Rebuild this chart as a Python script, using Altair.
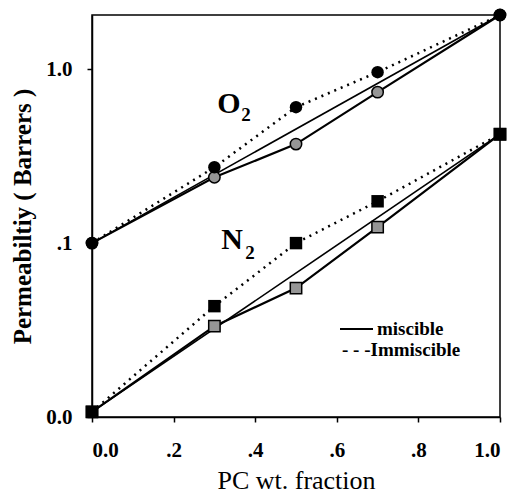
import altair as alt
import pandas as pd

# PC weight fraction
x_vals = [0.0, 0.3, 0.5, 0.7, 1.0]

# O2 permeability (Barrers)
o2_immiscible = [0.1, 0.273, 0.605, 0.961, 2.05]
o2_miscible = [0.1, 0.239, 0.371, 0.738, 2.05]
# N2 permeability (Barrers)
n2_immiscible = [0.0107, 0.0434, 0.1, 0.174, 0.423]
n2_miscible = [0.0107, 0.0333, 0.0551, 0.1236, 0.423]

x_ticks = [0.0, 0.2, 0.4, 0.6, 0.8, 1.0]
y_ticks = [0.01, 0.1, 1.0]

rows = []
for gas, imm, mis in [("O2", o2_immiscible, o2_miscible), ("N2", n2_immiscible, n2_miscible)]:
    for xv, a, b in zip(x_vals, imm, mis):
        rows.append({"x": xv, "y": a, "gas": gas, "kind": "immiscible"})
        rows.append({"x": xv, "y": b, "gas": gas, "kind": "miscible"})
df = pd.DataFrame(rows)

# straight log-linear mixing line between the pure-component endpoints
straight = []
for gas, mis in [("O2", o2_miscible), ("N2", n2_miscible)]:
    straight.append({"x": x_vals[0], "y": mis[0], "gas": gas})
    straight.append({"x": x_vals[-1], "y": mis[-1], "gas": gas})
df_straight = pd.DataFrame(straight)

FONT = "Liberation Serif"

x_enc = alt.X("x:Q", scale=alt.Scale(domain=[0, 1], nice=False),
              axis=alt.Axis(values=x_ticks, title="PC wt. fraction",
                            labelExpr="datum.value == 0 ? '0.0' : (datum.value >= 1 ? '1.0' : '.' + format(datum.value*10, 'd'))",
                            labelPadding=17, titlePadding=7, titleFontSize=26,
                            titleFontWeight="normal"))
y_enc = alt.Y("y:Q", scale=alt.Scale(type="log", domain=[0.01, 2.05], nice=False),
              axis=alt.Axis(values=y_ticks, title="Permeabiltiy ( Barrers )",
                            labelExpr="datum.value > 0.5 ? '1.0' : (datum.value > 0.05 ? '.1' : '0.0')",
                            labelPadding=15, titlePadding=10,
                            titleFontWeight="bold"))

base = alt.Chart(df)

straight_line = alt.Chart(df_straight).mark_line(color="black", strokeWidth=1.6).encode(
    x=x_enc, y=y_enc, detail="gas:N")

mis_line = base.transform_filter(alt.datum.kind == "miscible").mark_line(
    color="black", strokeWidth=2.2).encode(x=x_enc, y=y_enc, detail="gas:N")

imm_line = base.transform_filter(alt.datum.kind == "immiscible").mark_line(
    color="black", strokeWidth=2.5, strokeDash=[2, 5]).encode(x=x_enc, y=y_enc, detail="gas:N")

shape_scale = alt.Scale(domain=["O2", "N2"], range=["circle", "square"])

mis_pts = base.transform_filter(alt.datum.kind == "miscible").mark_point(
    filled=True, fill="#969696", stroke="black", strokeWidth=1.5, opacity=1, size=130).encode(
    x=x_enc, y=y_enc, shape=alt.Shape("gas:N", scale=shape_scale, legend=None))

imm_pts = base.transform_filter(alt.datum.kind == "immiscible").mark_point(
    filled=True, color="black", opacity=1, size=155).encode(
    x=x_enc, y=y_enc, shape=alt.Shape("gas:N", scale=shape_scale, legend=None))

# gas labels
lab_main = alt.Chart(pd.DataFrame({"t": ["O", "N"], "px": [137, 140], "py": [89, 225]})).mark_text(
    font=FONT, fontWeight="bold", fontSize=30, color="black").encode(
    x=alt.X("px:Q", scale=None), y=alt.Y("py:Q", scale=None), text="t:N")
lab_sub = alt.Chart(pd.DataFrame({"t": ["2", "2"], "px": [154, 158], "py": [100, 238]})).mark_text(
    font=FONT, fontWeight="bold", fontSize=19, color="black").encode(
    x=alt.X("px:Q", scale=None), y=alt.Y("py:Q", scale=None), text="t:N")

# legend
leg_line = alt.Chart(pd.DataFrame({"a": [0]})).mark_rule(color="black", strokeWidth=2).encode(
    x=alt.value(248), x2=alt.value(281), y=alt.value(314))
leg_text = alt.Chart(pd.DataFrame({"t": ["miscible", "- - -Immiscible"], "px": [285, 250], "py": [314, 335]})).mark_text(
    font=FONT, fontWeight="bold", fontSize=19, color="black", align="left", baseline="middle").encode(
    x=alt.X("px:Q", scale=None), y=alt.Y("py:Q", scale=None), text="t:N")

chart = alt.layer(straight_line, mis_line, imm_line, mis_pts, imm_pts,
                  lab_main, lab_sub, leg_line, leg_text).properties(
    width=408, height=402,
    autosize=alt.AutoSizeParams(type="none"),
    padding={"left": 84, "top": 7, "right": 9, "bottom": 76},
    background="white",
).configure_view(stroke="black", strokeWidth=1.5).configure_axis(
    grid=False, domainColor="black", domainWidth=1.5, tickColor="black", tickWidth=1.5,
    tickSize=5, labelFont=FONT, labelFontSize=21, labelFontWeight="bold", labelColor="black",
    titleFont=FONT, titleFontSize=25, titleColor="black",
)

chart.save("out.html", embed_options={"renderer": "svg", "actions": False})
